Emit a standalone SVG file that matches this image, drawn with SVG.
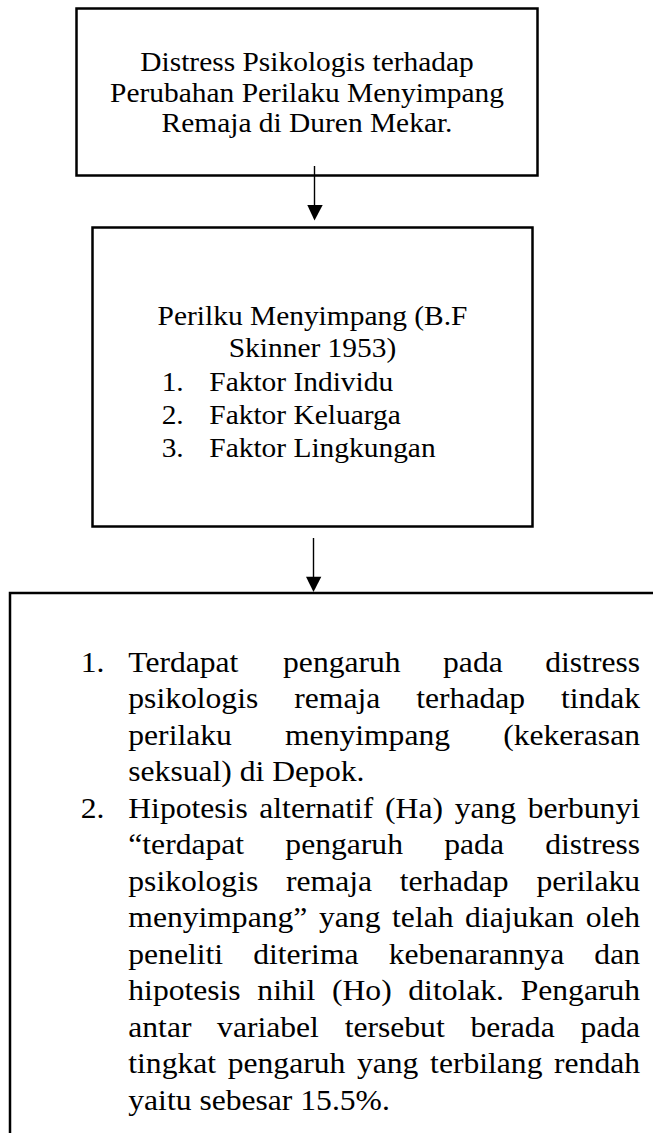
<svg xmlns="http://www.w3.org/2000/svg" width="653" height="1133" viewBox="0 0 653 1133">
<style>
.box{fill:none;stroke:#000;stroke-width:2.5}
.t{font-family:"Liberation Serif","Times New Roman",serif;fill:#000}
.c{text-anchor:middle}
.s27{font-size:27px}
.s29{font-size:29px}
.conn line{stroke:#000;stroke-width:1.4}
.conn polygon{fill:#000}
</style>
<rect width="653" height="1133" fill="#fff"/>
<g id="node-distress">
<rect class="box" x="76.5" y="8.5" width="461" height="167"/>
<g transform="scale(1.09 1)" class="t s27 c">
<text x="281.7" y="71.5">Distress Psikologis terhadap</text>
<text x="281.7" y="102">Perubahan Perilaku Menyimpang</text>
<text x="281.7" y="132">Remaja di Duren Mekar.</text>
</g>
</g>
<g id="node-perilaku">
<rect class="box" x="92.5" y="227.5" width="440" height="299"/>
<g transform="scale(1.09 1)" class="t s27">
<text class="c" x="286.7" y="325">Perilku Menyimpang (B.F</text>
<text class="c" x="286.7" y="357.5">Skinner 1953)</text>
<text x="148.3" y="391.5">1.</text><text x="192" y="391.5">Faktor Individu</text>
<text x="148.3" y="424.5">2.</text><text x="192" y="424.5">Faktor Keluarga</text>
<text x="148.3" y="457.5">3.</text><text x="192" y="457.5">Faktor Lingkungan</text>
</g>
</g>
<g id="node-hasil">
<rect class="box" x="10" y="593" width="700" height="600"/>
<g transform="scale(1.09 1)" class="t s29">
<text x="74" y="672">1.</text>
<text y="672"><tspan x="117.7">Terdapat</tspan><tspan x="259.7">pengaruh</tspan><tspan x="406.5">pada</tspan><tspan x="500.2">distress</tspan></text>
<text y="708.5"><tspan x="117.7">psikologis</tspan><tspan x="270">remaja</tspan><tspan x="381.9">terhadap</tspan><tspan x="514.7">tindak</tspan></text>
<text y="745"><tspan x="117.7">perilaku</tspan><tspan x="261.5">menyimpang</tspan><tspan x="461.6">(kekerasan</tspan></text>
<text x="117.7" y="781.5">seksual) di Depok.</text>
<text x="74" y="818">2.</text>
<text y="818"><tspan x="117.7">Hipotesis</tspan><tspan x="237.9">alternatif</tspan><tspan x="353.3">(Ha)</tspan><tspan x="417.1">yang</tspan><tspan x="484.1">berbunyi</tspan></text>
<text y="854.5"><tspan x="117.7">“terdapat</tspan><tspan x="261.8">pengaruh</tspan><tspan x="407.6">pada</tspan><tspan x="500.2">distress</tspan></text>
<text y="891"><tspan x="117.7">psikologis</tspan><tspan x="262.4">remaja</tspan><tspan x="366.8">terhadap</tspan><tspan x="492.2">perilaku</tspan></text>
<text y="927.5"><tspan x="117.7">menyimpang”</tspan><tspan x="292.7">yang</tspan><tspan x="359.7">telah</tspan><tspan x="426.7">diajukan</tspan><tspan x="537.3">oleh</tspan></text>
<text y="964"><tspan x="117.7">peneliti</tspan><tspan x="232.3">diterima</tspan><tspan x="356.6">kebenarannya</tspan><tspan x="545.3">dan</tspan></text>
<text y="1000.5"><tspan x="117.7">hipotesis</tspan><tspan x="236.1">nihil</tspan><tspan x="304.6">(Ho)</tspan><tspan x="374.6">ditolak.</tspan><tspan x="477.7">Pengaruh</tspan></text>
<text y="1037"><tspan x="117.7">antar</tspan><tspan x="199.2">variabel</tspan><tspan x="316.2">tersebut</tspan><tspan x="431.6">berada</tspan><tspan x="532.5">pada</tspan></text>
<text y="1073.5"><tspan x="117.7">tingkat</tspan><tspan x="208.9">pengaruh</tspan><tspan x="327.5">yang</tspan><tspan x="394.6">terbilang</tspan><tspan x="508.3">rendah</tspan></text>
<text x="117.7" y="1110">yaitu sebesar 15.5%.</text>
</g>
</g>
<g id="connectors" class="conn">
<line x1="314.5" y1="166" x2="314.5" y2="206"/>
<polygon points="307.3,205 322.7,205 314.5,220.5"/>
<line x1="313.5" y1="538" x2="313.5" y2="578"/>
<polygon points="306,576.7 321.3,576.7 313.5,592"/>
</g>
</svg>
